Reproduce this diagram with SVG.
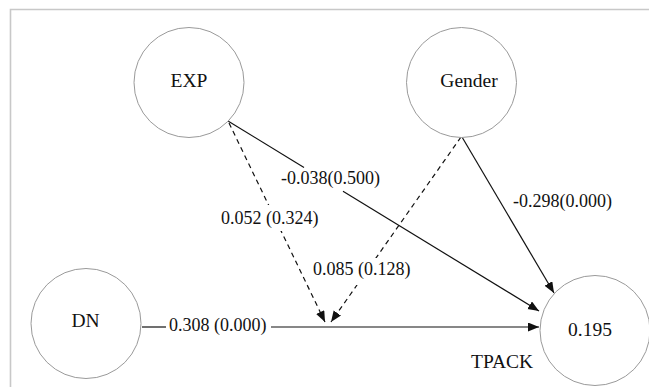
<svg xmlns="http://www.w3.org/2000/svg" width="649" height="387" viewBox="0 0 649 387">
  <style>
    .frame { fill: none; stroke: #c8c8c8; stroke-width: 1.6; }
    .node { fill: #ffffff; stroke: #9a9a9a; stroke-width: 1; }
    .ntext { font-family: "Liberation Serif", "Times New Roman", serif; font-size: 19.5px; fill: #111; }
    .ltext { font-family: "Liberation Serif", "Times New Roman", serif; font-size: 18px; fill: #111; }
    .solid { fill: none; stroke: #111; stroke-width: 1.2; }
    .dash { fill: none; stroke: #111; stroke-width: 1.2; stroke-dasharray: 5 4; }
    .bg { fill: #ffffff; }
  </style>
  <defs>
    <marker id="arrow" markerUnits="userSpaceOnUse" markerWidth="12" markerHeight="10" refX="11" refY="4.5" orient="auto">
      <path d="M0,0 L11,4.5 L0,9 z" fill="#111"/>
    </marker>
  </defs>
  <rect width="649" height="387" fill="#ffffff"/>
  <path class="frame" d="M10.5,387 V9.5 H649"/>

  <g id="connectors">
    <!-- DN -> TPACK -->
    <line class="solid" x1="142" y1="327" x2="166" y2="327"/>
    <line class="solid" x1="271" y1="327" x2="539" y2="327" marker-end="url(#arrow)"/>
    <!-- EXP -> TPACK -->
    <line class="solid" x1="228" y1="121" x2="304" y2="167.5"/>
    <line class="solid" x1="343" y1="191.3" x2="539" y2="311" marker-end="url(#arrow)"/>
    <!-- Gender -> TPACK -->
    <line class="solid" x1="462" y1="137" x2="554" y2="293" marker-end="url(#arrow)"/>
    <!-- EXP moderation (dashed) -->
    <line class="dash" x1="229" y1="123" x2="325" y2="322" marker-end="url(#arrow)"/>
    <!-- Gender moderation (dashed) -->
    <line class="dash" x1="461" y1="137" x2="331" y2="322" marker-end="url(#arrow)"/>
  </g>

  <g id="labels">
    <text class="ltext" x="169" y="331">0.308 (0.000)</text>
    <text class="ltext" x="281" y="184">-0.038(0.500)</text>
    <rect class="bg" x="220" y="205" width="100" height="26"/>
    <text class="ltext" x="221" y="224">0.052 (0.324)</text>
    <rect class="bg" x="312" y="258" width="100" height="27"/>
    <text class="ltext" x="313" y="275">0.085 (0.128)</text>
    <text class="ltext" x="513" y="207">-0.298(0.000)</text>
  </g>

  <g id="node-exp">
    <circle class="node" cx="189" cy="82.5" r="55"/>
    <text class="ntext" x="189" y="87" text-anchor="middle">EXP</text>
  </g>
  <g id="node-gender">
    <circle class="node" cx="461.5" cy="82.5" r="55"/>
    <text class="ntext" x="469" y="87" text-anchor="middle">Gender</text>
  </g>
  <g id="node-dn">
    <circle class="node" cx="86" cy="323.5" r="55"/>
    <text class="ntext" x="85.5" y="327" text-anchor="middle">DN</text>
  </g>
  <g id="node-tpack">
    <circle class="node" cx="595" cy="330.5" r="55"/>
    <text class="ntext" x="590" y="336" text-anchor="middle">0.195</text>
    <text class="ntext" x="471" y="368">TPACK</text>
  </g>
</svg>
